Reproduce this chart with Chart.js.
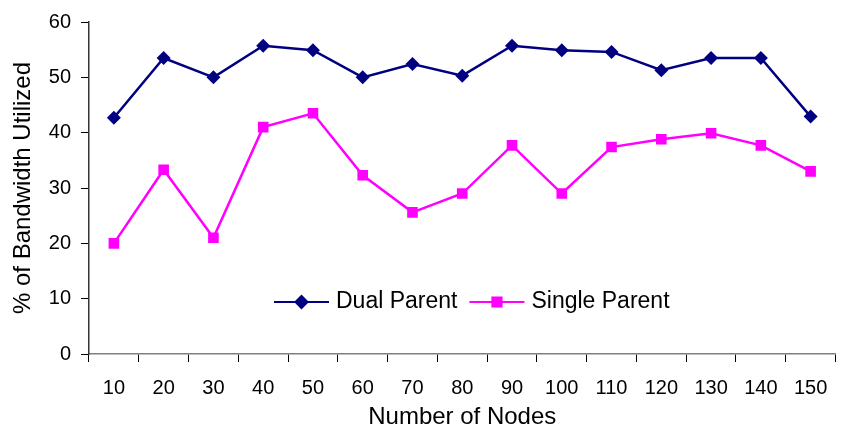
<!DOCTYPE html>
<html>
<head>
<meta charset="utf-8">
<script src="https://cdn.jsdelivr.net/npm/chart.js@4/dist/chart.umd.min.js"></script>
<style>
  html, body { margin: 0; padding: 0; background: #fff; }
  #wrap { width: 843px; height: 429px; }
</style>
</head>
<body>
<div id="wrap"><canvas id="myChart"></canvas></div>
<script>
const nodes = ['10', '20', '30', '40', '50', '60', '70', '80', '90', '100', '110', '120', '130', '140', '150'];
const dualParent = [42.7, 53.5, 50, 55.7, 54.9, 50, 52.4, 50.3, 55.7, 54.9, 54.6, 51.3, 53.5, 53.5, 42.9];
const singleParent = [20, 33.3, 21, 41, 43.5, 32.3, 25.6, 29, 37.7, 29, 37.4, 38.8, 39.9, 37.7, 33];
const yTicks = [0, 10, 20, 30, 40, 50, 60];

const fontFamily = '"Liberation Sans", Arial, sans-serif';

// legend drawn inside the plot area, line sample + marker + label
const innerLegend = {
  id: 'innerLegend',
  afterDraw(chart) {
    const { ctx, chartArea } = chart;
    let x = chartArea.left + 185;
    const y = chartArea.top + 280;
    ctx.save();
    ctx.font = '23px ' + fontFamily;
    ctx.textBaseline = 'middle';
    chart.data.datasets.forEach(ds => {
      ctx.strokeStyle = ds.borderColor;
      ctx.lineWidth = 2;
      ctx.beginPath();
      ctx.moveTo(x, y);
      ctx.lineTo(x + 55, y);
      ctx.stroke();
      Chart.helpers.drawPoint(ctx, {
        pointStyle: ds.pointStyle,
        radius: ds.pointRadius - 1,
        borderWidth: 1
      }, x + 27.5, y);
      ctx.fillStyle = ds.borderColor;
      ctx.fill();
      ctx.fillStyle = '#000';
      ctx.fillText(ds.label, x + 62, y);
      x += 62 + ctx.measureText(ds.label).width + 12;
    });
    ctx.restore();
  }
};

const ctx = document.getElementById('myChart').getContext('2d');
const myChart = new Chart(ctx, {
  type: 'line',
  data: {
    labels: nodes,
    datasets: [
      {
        label: 'Dual Parent',
        data: dualParent,
        borderColor: '#000080',
        backgroundColor: '#000080',
        borderWidth: 2.5,
        pointStyle: 'rectRot',
        pointRadius: 7,
        pointBorderWidth: 0,
        tension: 0
      },
      {
        label: 'Single Parent',
        data: singleParent,
        borderColor: '#FF00FF',
        backgroundColor: '#FF00FF',
        borderWidth: 2.5,
        pointStyle: 'rect',
        pointRadius: 7.5,
        pointBorderWidth: 0,
        tension: 0
      }
    ]
  },
  options: {
    responsive: true,
    maintainAspectRatio: false,
    animation: false,
    layout: { padding: { top: 22, right: 5, left: 0, bottom: 0 } },
    plugins: {
      legend: { display: false },
      tooltip: { enabled: false }
    },
    scales: {
      x: {
        type: 'category',
        offset: true,
        grid: { offset: true, drawOnChartArea: false, tickLength: 8, color: '#000' },
        border: { color: '#808080', width: 1.5 },
        ticks: { color: '#000', font: { family: fontFamily, size: 20 }, padding: 14, maxRotation: 0, autoSkip: false },
        title: {
          display: true,
          text: 'Number of Nodes',
          color: '#000',
          font: { family: fontFamily, size: 24 },
          padding: { top: 0, bottom: -3 }
        },
        afterFit: scale => { scale.height = 75; }
      },
      y: {
        min: 0,
        max: 60,
        afterBuildTicks: scale => { scale.ticks = yTicks.map(v => ({ value: v })); },
        grid: { drawOnChartArea: false, tickLength: 8, color: '#000' },
        border: { color: '#333', width: 1.5 },
        ticks: { color: '#000', font: { family: fontFamily, size: 20 }, padding: 10 },
        title: {
          display: true,
          text: '% of Bandwidth Utilized',
          color: '#000',
          font: { family: fontFamily, size: 24 },
          padding: { top: 9, bottom: 0 }
        },
        afterFit: scale => { scale.width = 89; }
      }
    }
  },
  plugins: [innerLegend]
});
</script>
</body>
</html>
